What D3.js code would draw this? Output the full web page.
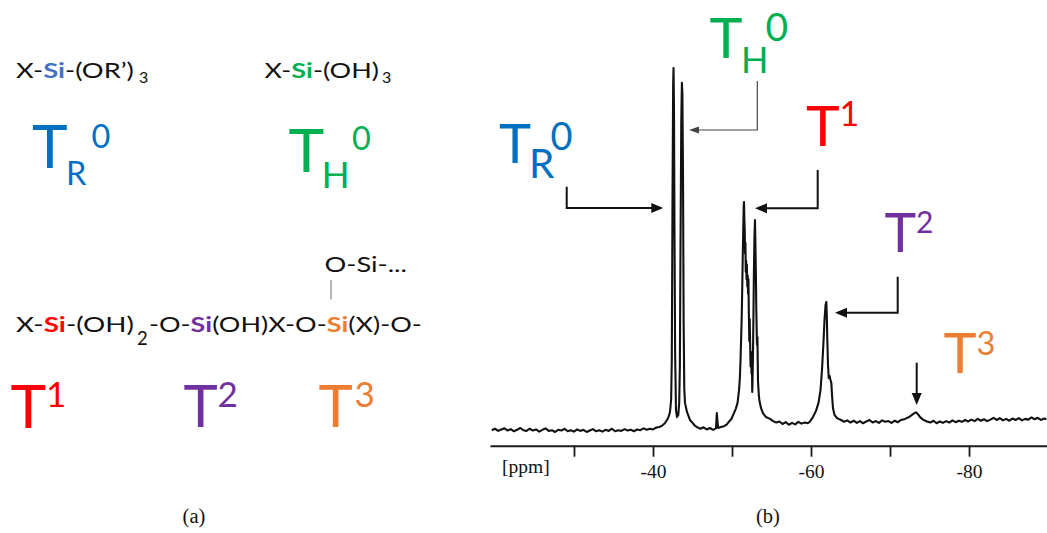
<!DOCTYPE html>
<html><head><meta charset="utf-8">
<script src="https://cdn.jsdelivr.net/npm/d3@7"></script>
<style>html,body{margin:0;padding:0;background:#fff;} svg{display:block;}</style>
</head><body>
<svg id="c" width="1047" height="533"></svg>
<script>
// ---------- data ----------
const tickValues = [-30, -40, -50, -60, -70, -80];
const tickLabels = ["", "-40", "", "-60", "", "-80"];
const axisUnit = "[ppm]";
const captions = ["(a)", "(b)"];
// 29Si NMR spectrum: [chemical shift (ppm), intensity (a.u.)]
const spectrum = [
 [-19.6,0.5],[-20.0,0.9],[-20.4,0.3],[-20.8,0.7],[-21.2,1.0],[-21.6,0.4],[-22.0,0.8],[-22.4,0.2],
 [-22.8,0.6],[-23.2,1.1],[-23.6,0.5],[-24.0,0.3],[-24.4,0.9],[-24.8,0.4],[-25.2,0.7],[-25.6,0.1],
 [-26.0,0.6],[-26.4,1.0],[-26.8,0.3],[-27.2,0.5],[-27.6,0.0],[-28.0,0.6],[-28.4,0.4],[-28.8,0.9],
 [-29.2,0.2],[-29.6,0.5],[-30.0,0.1],[-30.4,0.7],[-30.8,0.3],[-31.2,0.6],[-31.6,0.0],[-32.0,0.4],
 [-32.4,0.8],[-32.8,0.2],[-33.2,0.5],[-33.6,0.1],[-34.0,0.6],[-34.4,0.3],[-34.8,0.9],[-35.2,0.2],
 [-35.6,0.5],[-36.0,0.3],[-36.4,0.8],[-36.8,0.4],[-37.2,0.6],[-37.6,0.2],[-38.0,0.7],[-38.4,0.5],
 [-38.8,1.0],[-39.2,0.6],[-39.6,0.9],[-40.0,0.7],[-40.4,1.2],[-40.8,1.4],[-41.14,1.7],[-41.5,2.4],
 [-41.77,3.3],[-42.0,4.3],[-42.15,5.5],[-42.3,9.0],[-42.38,20],[-42.47,63.7],[-42.55,95],[-42.6,100],
 [-42.66,88],[-42.72,55],[-42.8,22],[-42.91,6.0],[-43.04,4.1],[-43.2,4.7],[-43.32,8],[-43.4,18],
 [-43.48,50],[-43.58,85],[-43.66,95.9],[-43.72,93],[-43.8,70],[-43.88,30],[-43.96,12],[-44.05,8.0],
 [-44.3,5.5],[-44.68,3.3],[-45.0,2.5],[-45.32,1.7],[-45.7,1.2],[-46.0,0.9],[-46.4,1.3],[-46.8,0.7],
 [-47.2,1.1],[-47.6,0.6],[-47.97,1.0],[-48.08,5.2],[-48.16,3.0],[-48.25,1.1],[-48.6,1.4],[-49.0,1.6],
 [-49.3,2.0],[-49.6,2.8],[-49.9,3.5],[-50.25,5.2],[-50.5,6.5],[-50.7,8],[-50.89,11.5],[-51.0,15],
 [-51.08,19.8],[-51.16,26],[-51.23,31.6],[-51.3,40],[-51.36,48.1],[-51.42,55],[-51.48,62],[-51.52,63.2],
 [-51.57,58],[-51.61,55.5],[-51.66,49],[-51.7,52],[-51.74,44],[-51.79,47],[-51.84,42],[-51.88,46],
 [-51.94,40],[-51.99,43],[-52.03,38],[-52.08,42],[-52.13,33],[-52.19,25],[-52.24,31],[-52.3,24],
 [-52.35,18],[-52.4,22],[-52.47,16],[-52.52,21],[-52.56,11],[-52.6,14],[-52.66,22],[-52.72,33],
 [-52.78,45],[-52.85,54],[-52.91,58.2],[-52.96,52],[-53.02,44],[-53.08,33],[-53.16,24],[-53.22,26],
 [-53.29,14],[-53.4,10],[-53.48,8.5],[-53.67,6.6],[-53.92,5.2],[-54.3,4.1],[-54.81,3.6],[-55.2,3.0],
 [-55.6,2.6],[-56.0,2.9],[-56.4,2.2],[-56.8,2.7],[-57.2,2.0],[-57.6,2.5],[-58.0,2.1],[-58.4,2.8],
 [-58.8,2.3],[-59.2,2.6],[-59.6,2.4],[-59.87,2.9],[-60.25,4.1],[-60.63,5.8],[-60.95,8.0],[-61.2,11.5],
 [-61.39,17],[-61.56,23.9],[-61.71,30.8],[-61.84,34.9],[-61.94,35.7],[-62.0,32],[-62.05,26.6],[-62.15,18.4],
 [-62.25,14.8],[-62.36,15.4],[-62.47,14.3],[-62.57,13.5],[-62.66,10.2],[-62.78,6.6],[-62.97,4.7],[-63.29,3.8],
 [-63.8,3.3],[-64.2,2.8],[-64.6,3.2],[-65.0,2.6],[-65.4,3.1],[-65.8,2.5],[-66.2,3.0],[-66.6,2.4],
 [-67.0,2.9],[-67.4,3.3],[-67.8,2.6],[-68.2,3.0],[-68.6,2.5],[-69.0,3.2],[-69.4,2.8],[-69.8,3.0],
 [-70.2,2.5],[-70.6,3.1],[-71.0,2.7],[-71.4,3.3],[-71.9,3.6],[-72.41,4.1],[-72.78,4.7],[-73.04,5.1],
 [-73.29,5.4],[-73.54,4.9],[-73.8,4.1],[-74.18,3.4],[-74.68,2.9],[-75.1,2.6],[-75.5,3.1],[-75.9,2.4],
 [-76.3,2.9],[-76.7,2.5],[-77.1,3.0],[-77.5,2.6],[-77.9,3.2],[-78.3,2.7],[-78.7,3.1],[-79.1,2.8],
 [-79.5,3.3],[-79.9,2.9],[-80.3,3.4],[-80.7,3.0],[-81.1,3.6],[-81.5,3.1],[-81.9,3.5],[-82.3,3.0],
 [-82.7,3.4],[-83.1,3.9],[-83.5,3.3],[-83.9,3.8],[-84.3,3.2],[-84.7,3.6],[-85.1,3.1],[-85.5,3.7],
 [-85.9,3.3],[-86.3,3.8],[-86.7,3.2],[-87.1,3.6],[-87.5,3.4],[-87.9,4.0],[-88.3,3.5],[-88.7,3.9],
 [-89.1,3.3],[-89.5,3.7],[-89.8,3.5]
];

// ---------- setup ----------
const svg = d3.select("#c");
svg.append("rect").attr("width",1047).attr("height",533).attr("fill","#fff");
const LATO = "Lato, Carlito, 'Open Sans', sans-serif";
const SERIF = "'Liberation Serif', 'DejaVu Serif', serif";

const x = d3.scaleLinear().domain([-19.37, -89.87]).range([490, 1047]);
const y = d3.scaleLinear().domain([0, 100]).range([432, 68]);

// ---------- spectrum ----------
svg.append("path").datum(spectrum)
  .attr("d", d3.line().x(d => x(d[0])).y(d => y(d[1])))
  .attr("fill","none").attr("stroke","#111").attr("stroke-width",2.1)
  .attr("stroke-linejoin","round");

// ---------- axis ----------
const axis = d3.axisBottom(x).tickValues(tickValues)
  .tickFormat((d,i) => tickLabels[i]).tickSize(11).tickSizeOuter(0).tickPadding(7);
const ag = svg.append("g").attr("transform","translate(0,445.7)").call(axis);
ag.select(".domain").attr("stroke","#1a1a1a").attr("stroke-width",2);
ag.selectAll(".tick line").attr("stroke","#1a1a1a").attr("stroke-width",1.8);
ag.selectAll(".tick text").attr("font-family",SERIF).attr("font-size",19.5).attr("fill","#111");
svg.append("text").attr("x",502).attr("y",472.5).attr("font-family",SERIF)
  .attr("font-size",19.5).attr("fill","#111").text(axisUnit);

// ---------- captions ----------
svg.append("text").attr("x",194).attr("y",522.5).attr("text-anchor","middle")
  .attr("font-family",SERIF).attr("font-size",20.5).attr("fill","#111").text(captions[0]);
svg.append("text").attr("x",768).attr("y",522.5).attr("text-anchor","middle")
  .attr("font-family",SERIF).attr("font-size",20.5).attr("fill","#111").text(captions[1]);

// ---------- T labels (one text element each, with sub/superscript tspans) ----------
function tLabel(c, T, sub, sup) {
  const t = svg.append("text").attr("fill", c).attr("font-family", LATO);
  t.append("tspan").attr("x",T[0]).attr("y",T[1]).attr("font-size",T[2]).text("T");
  if (sub) t.append("tspan").attr("x",sub[1]).attr("y",sub[2]).attr("font-size",sub[3]).text(sub[0]);
  if (sup) t.append("tspan").attr("x",sup[1]).attr("y",sup[2]).attr("font-size",sup[3]).text(sup[0]);
}
const BLUE="#0070C0", GREEN="#00B050", RED="#FF0000", PURPLE="#7030A0", ORANGE="#ED7D31";
// right panel
tLabel(BLUE,  [499,163,54.4],   ["R",529,178,40.5],   ["0",550.5,150,38]);
tLabel(GREEN, [709.5,58.3,56],  ["H",741,72.7,36],    ["0",765.5,40.5,39]);
tLabel(RED,   [806,146,57],     null,                 ["1",839.5,126,34]);
tLabel(PURPLE,[884.5,251.7,53.6], null,               ["2",916,233.3,30]);
tLabel(ORANGE,[943.5,373.3,56], null,                 ["3",976.5,355,32.5]);
// left panel
tLabel(BLUE,  [32,168.3,60.4],   ["R",66,185,32.5],   ["0",91.5,148.3,32.5]);
tLabel(GREEN, [288.5,171.7,60.5],["H",321.5,188.3,37],["0",352,150,32.5]);
tLabel(RED,   [10.5,428.3,60.4], null,                ["1",46,406.7,35]);
tLabel(PURPLE,[183.5,426.7,58],  null,                ["2",217.5,406.7,35]);
tLabel(ORANGE,[318.5,426.7,58],  null,                ["3",354.5,406.7,35]);

// ---------- formulas ----------
function formula(parts, x0, x1, base, fs) {
  const t = svg.append("text").attr("x",x0).attr("y",base).attr("font-family",LATO)
    .attr("font-size",fs).attr("fill","#111");
  parts.forEach(p => {
    const ts = t.append("tspan").text(p[0]);
    if (p[1]) ts.attr("fill",p[1]).attr("font-weight",700);
  });
  const w = t.node().getBBox().width;
  const sx = (x1 - x0) / w;
  t.attr("transform",`translate(${x0},0) scale(${sx},1) translate(${-x0},0)`);
  return t;
}
function subText(s, xx, base, fs) {
  svg.append("text").attr("x",xx).attr("y",base).attr("font-family",LATO)
    .attr("font-size",fs).attr("fill","#111").text(s);
}
formula([["X-"],["Si","#4472C4"],["-(OR\u2019)"]], 16, 134, 78, 21.5);
subText("3", 139, 83.3, 16);
formula([["X-"],["Si",GREEN],["-(OH)"]], 264.5, 379, 78, 21.5);
subText("3", 382, 83.3, 16);
formula([["O-Si-..."]], 324.5, 407, 271.7, 21.5);
svg.append("line").attr("x1",331).attr("x2",331).attr("y1",280).attr("y2",299.5)
  .attr("stroke","#888").attr("stroke-width",1.2);
formula([["X-"],["Si",RED],["-(OH)"]], 16, 134, 331.7, 21.5);
subText("2", 137, 345, 18.5);
formula([["-O-"],["Si",PURPLE],["(OH)X-O-"],["Si",ORANGE],["(X)-O-"]], 149, 422, 331.7, 21.5);

// ---------- annotation arrows ----------
function arrow(pts, tip, dir, w, len, hw, col) {
  svg.append("path").attr("d", d3.line()(pts)).attr("fill","none")
    .attr("stroke",col).attr("stroke-width",w);
  let tri;
  if (dir === "right") tri = [[tip[0],tip[1]],[tip[0]-len,tip[1]-hw],[tip[0]-len,tip[1]+hw]];
  if (dir === "left")  tri = [[tip[0],tip[1]],[tip[0]+len,tip[1]-hw],[tip[0]+len,tip[1]+hw]];
  if (dir === "down")  tri = [[tip[0],tip[1]],[tip[0]-hw,tip[1]-len],[tip[0]+hw,tip[1]-len]];
  svg.append("path").attr("d", d3.line()(tri) + "Z").attr("fill",col);
}
arrow([[566.7,186.7],[566.7,208],[653,208]], [663.3,208], "right", 2, 12, 5, "#111");
arrow([[757.3,81],[757.3,130],[697,130]], [689,130], "left", 1.2, 10, 3.5, "#444");
arrow([[817.7,170],[817.7,208.3],[765,208.3]], [755,208.3], "left", 2, 12, 5, "#111");
arrow([[897.7,276.7],[897.7,312.8],[845,312.8]], [835,312.8], "left", 2, 12, 5, "#111");
arrow([[916.7,362.7],[916.7,395]], [916.7,405], "down", 2, 12, 5, "#111");
</script>
</body></html>
